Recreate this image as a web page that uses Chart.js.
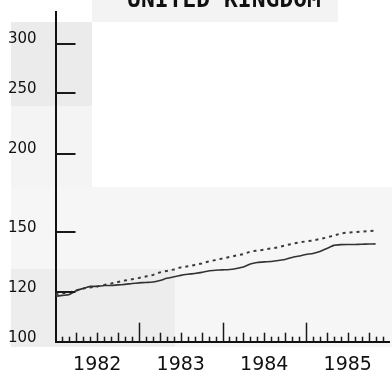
<!DOCTYPE html>
<html lang="en">
<head>
    <meta charset="UTF-8">
    <title>United Kingdom</title>
    <style>
        body { margin: 0; padding: 0; background: #fff; }
        #chart { display: block; }
    </style>
    <script src="https://cdn.jsdelivr.net/npm/chart.js"></script>
</head>
<body>

<canvas id="chart" width="392" height="376"></canvas>

<script>
    // monthly observations, Jan 1982 - Nov 1985
    var months = [
        '1982-01','1982-02','1982-03','1982-04','1982-05','1982-06','1982-07','1982-08','1982-09','1982-10','1982-11','1982-12',
        '1983-01','1983-02','1983-03','1983-04','1983-05','1983-06','1983-07','1983-08','1983-09','1983-10','1983-11','1983-12',
        '1984-01','1984-02','1984-03','1984-04','1984-05','1984-06','1984-07','1984-08','1984-09','1984-10','1984-11','1984-12',
        '1985-01','1985-02','1985-03','1985-04','1985-05','1985-06','1985-07','1985-08','1985-09','1985-10','1985-11'
    ];
    var solidSeries = [
        118.2, 118.6, 119.0, 120.8, 121.7, 122.6, 122.6, 123.0, 123.0, 123.3, 123.5, 123.9,
        124.2, 124.4, 124.6, 125.3, 126.3, 127.0, 127.7, 128.2, 128.6, 129.1, 129.8, 130.1,
        130.3, 130.5, 131.0, 131.7, 133.2, 133.9, 134.2, 134.4, 134.9, 135.4, 136.4, 137.1,
        137.9, 138.4, 139.4, 141.0, 142.6, 143.0, 143.1, 143.1, 143.2, 143.3, 143.4
    ];
    var dottedSeries = [
        119.0, 119.5, 119.9, 120.8, 121.7, 122.1, 122.6, 123.3, 123.9, 124.6, 125.3, 125.9,
        126.5, 127.2, 127.9, 129.1, 129.8, 130.5, 131.5, 132.0, 132.7, 133.4, 134.4, 135.1,
        135.9, 136.6, 137.4, 138.1, 139.4, 139.9, 140.4, 141.0, 141.6, 142.6, 143.4, 144.2,
        144.7, 145.2, 146.0, 146.8, 147.9, 149.0, 149.5, 149.8, 150.1, 150.3, 150.6
    ];
    var yTicks = [100, 120, 150, 200, 250, 300];
    var years = [1982, 1983, 1984, 1985];
    var title = 'UNITED KINGDOM';

    // month string -> fractional year for the linear x scale
    function toYear(m) {
        var p = m.split('-');
        return parseInt(p[0]) + (parseInt(p[1]) - 1) / 12;
    }
    function points(values) {
        return values.map(function (v, i) { return { x: toYear(months[i]), y: v }; });
    }

    // faint grey blotches of the scanned page
    var paperPlugin = {
        id: 'paper',
        beforeDraw: function (chart) {
            var ctx = chart.ctx;
            var blocks = [
                [92, 0, 246, 22, '#f3f3f3'],
                [11, 22, 81, 84, '#ebebeb'],
                [11, 106, 81, 81, '#f4f4f4'],
                [11, 187, 381, 82, '#f6f6f6'],
                [11, 269, 164, 78, '#ededed'],
                [175, 269, 217, 78, '#f6f6f6']
            ];
            ctx.save();
            blocks.forEach(function (b) {
                ctx.fillStyle = b[4];
                ctx.fillRect(b[0], b[1], b[2], b[3]);
            });
            ctx.restore();
        }
    };

    // inward tick marks on both axes plus the cut-off title
    var ticksPlugin = {
        id: 'innerTicks',
        afterDatasetsDraw: function (chart) {
            var ctx = chart.ctx;
            var xs = chart.scales.x, ys = chart.scales.y;
            var area = chart.chartArea;
            ctx.save();
            ctx.strokeStyle = '#1a1a1a';
            ctx.lineWidth = 2;
            yTicks.slice(1).forEach(function (v) {
                var py = Math.round(ys.getPixelForValue(v));
                ctx.beginPath();
                ctx.moveTo(area.left, py);
                ctx.lineTo(area.left + 20, py);
                ctx.stroke();
            });
            ctx.lineWidth = 1.5;
            for (var i = 1; i < years.length * 12; i++) {
                var px = Math.round(xs.getPixelForValue(years[0] + i / 12)) + 0.5;
                var h = (i % 12 === 0) ? 19 : (i % 3 === 0 ? 9 : 5);
                ctx.beginPath();
                ctx.moveTo(px, area.bottom);
                ctx.lineTo(px, area.bottom - h);
                ctx.stroke();
            }
            ctx.fillStyle = '#111';
            ctx.font = 'bold 23px "DejaVu Sans Mono"';
            ctx.textAlign = 'center';
            ctx.textBaseline = 'alphabetic';
            ctx.fillText(title, 224, 7);
            ctx.restore();
        }
    };

    new Chart(document.getElementById('chart').getContext('2d'), {
        type: 'line',
        data: {
            datasets: [{
                label: 'solid',
                data: points(solidSeries),
                borderColor: '#333',
                borderWidth: 1.6,
                pointRadius: 0,
                tension: 0.2
            }, {
                label: 'dotted',
                data: points(dottedSeries),
                borderColor: '#3a3a3a',
                borderWidth: 2,
                borderDash: [3, 4],
                pointRadius: 0,
                tension: 0
            }]
        },
        options: {
            responsive: false,
            animation: false,
            devicePixelRatio: 1,
            layout: { padding: { left: 8, top: 10, right: 2.5, bottom: 0 } },
            plugins: { legend: { display: false }, tooltip: { enabled: false } },
            scales: {
                x: {
                    type: 'linear',
                    min: years[0],
                    max: years[years.length - 1] + 1,
                    grid: { display: false, drawTicks: false },
                    border: { display: true, color: '#111', width: 2 },
                    afterBuildTicks: function (scale) {
                        scale.ticks = years.map(function (y) { return { value: y + 0.5 }; });
                    },
                    afterFit: function (scale) { scale.height = 34.3; },
                    ticks: {
                        autoSkip: false,
                        maxRotation: 0,
                        padding: 12,
                        color: '#111',
                        font: { family: 'DejaVu Sans', size: 19 },
                        callback: function (v) { return String(Math.floor(v)); }
                    }
                },
                y: {
                    type: 'logarithmic',
                    min: 100,
                    max: 337,
                    grid: { display: false, drawTicks: false },
                    border: { display: true, color: '#111', width: 2 },
                    afterBuildTicks: function (scale) {
                        scale.ticks = yTicks.map(function (v) { return { value: v }; });
                    },
                    afterFit: function (scale) { scale.width = 47.5; },
                    ticks: {
                        crossAlign: 'far',
                        labelOffset: -4,
                        color: '#111',
                        font: { family: 'DejaVu Sans', size: 15 },
                        callback: function (v) { return String(v); }
                    }
                }
            }
        },
        plugins: [paperPlugin, ticksPlugin]
    });
</script>

</body>
</html>
